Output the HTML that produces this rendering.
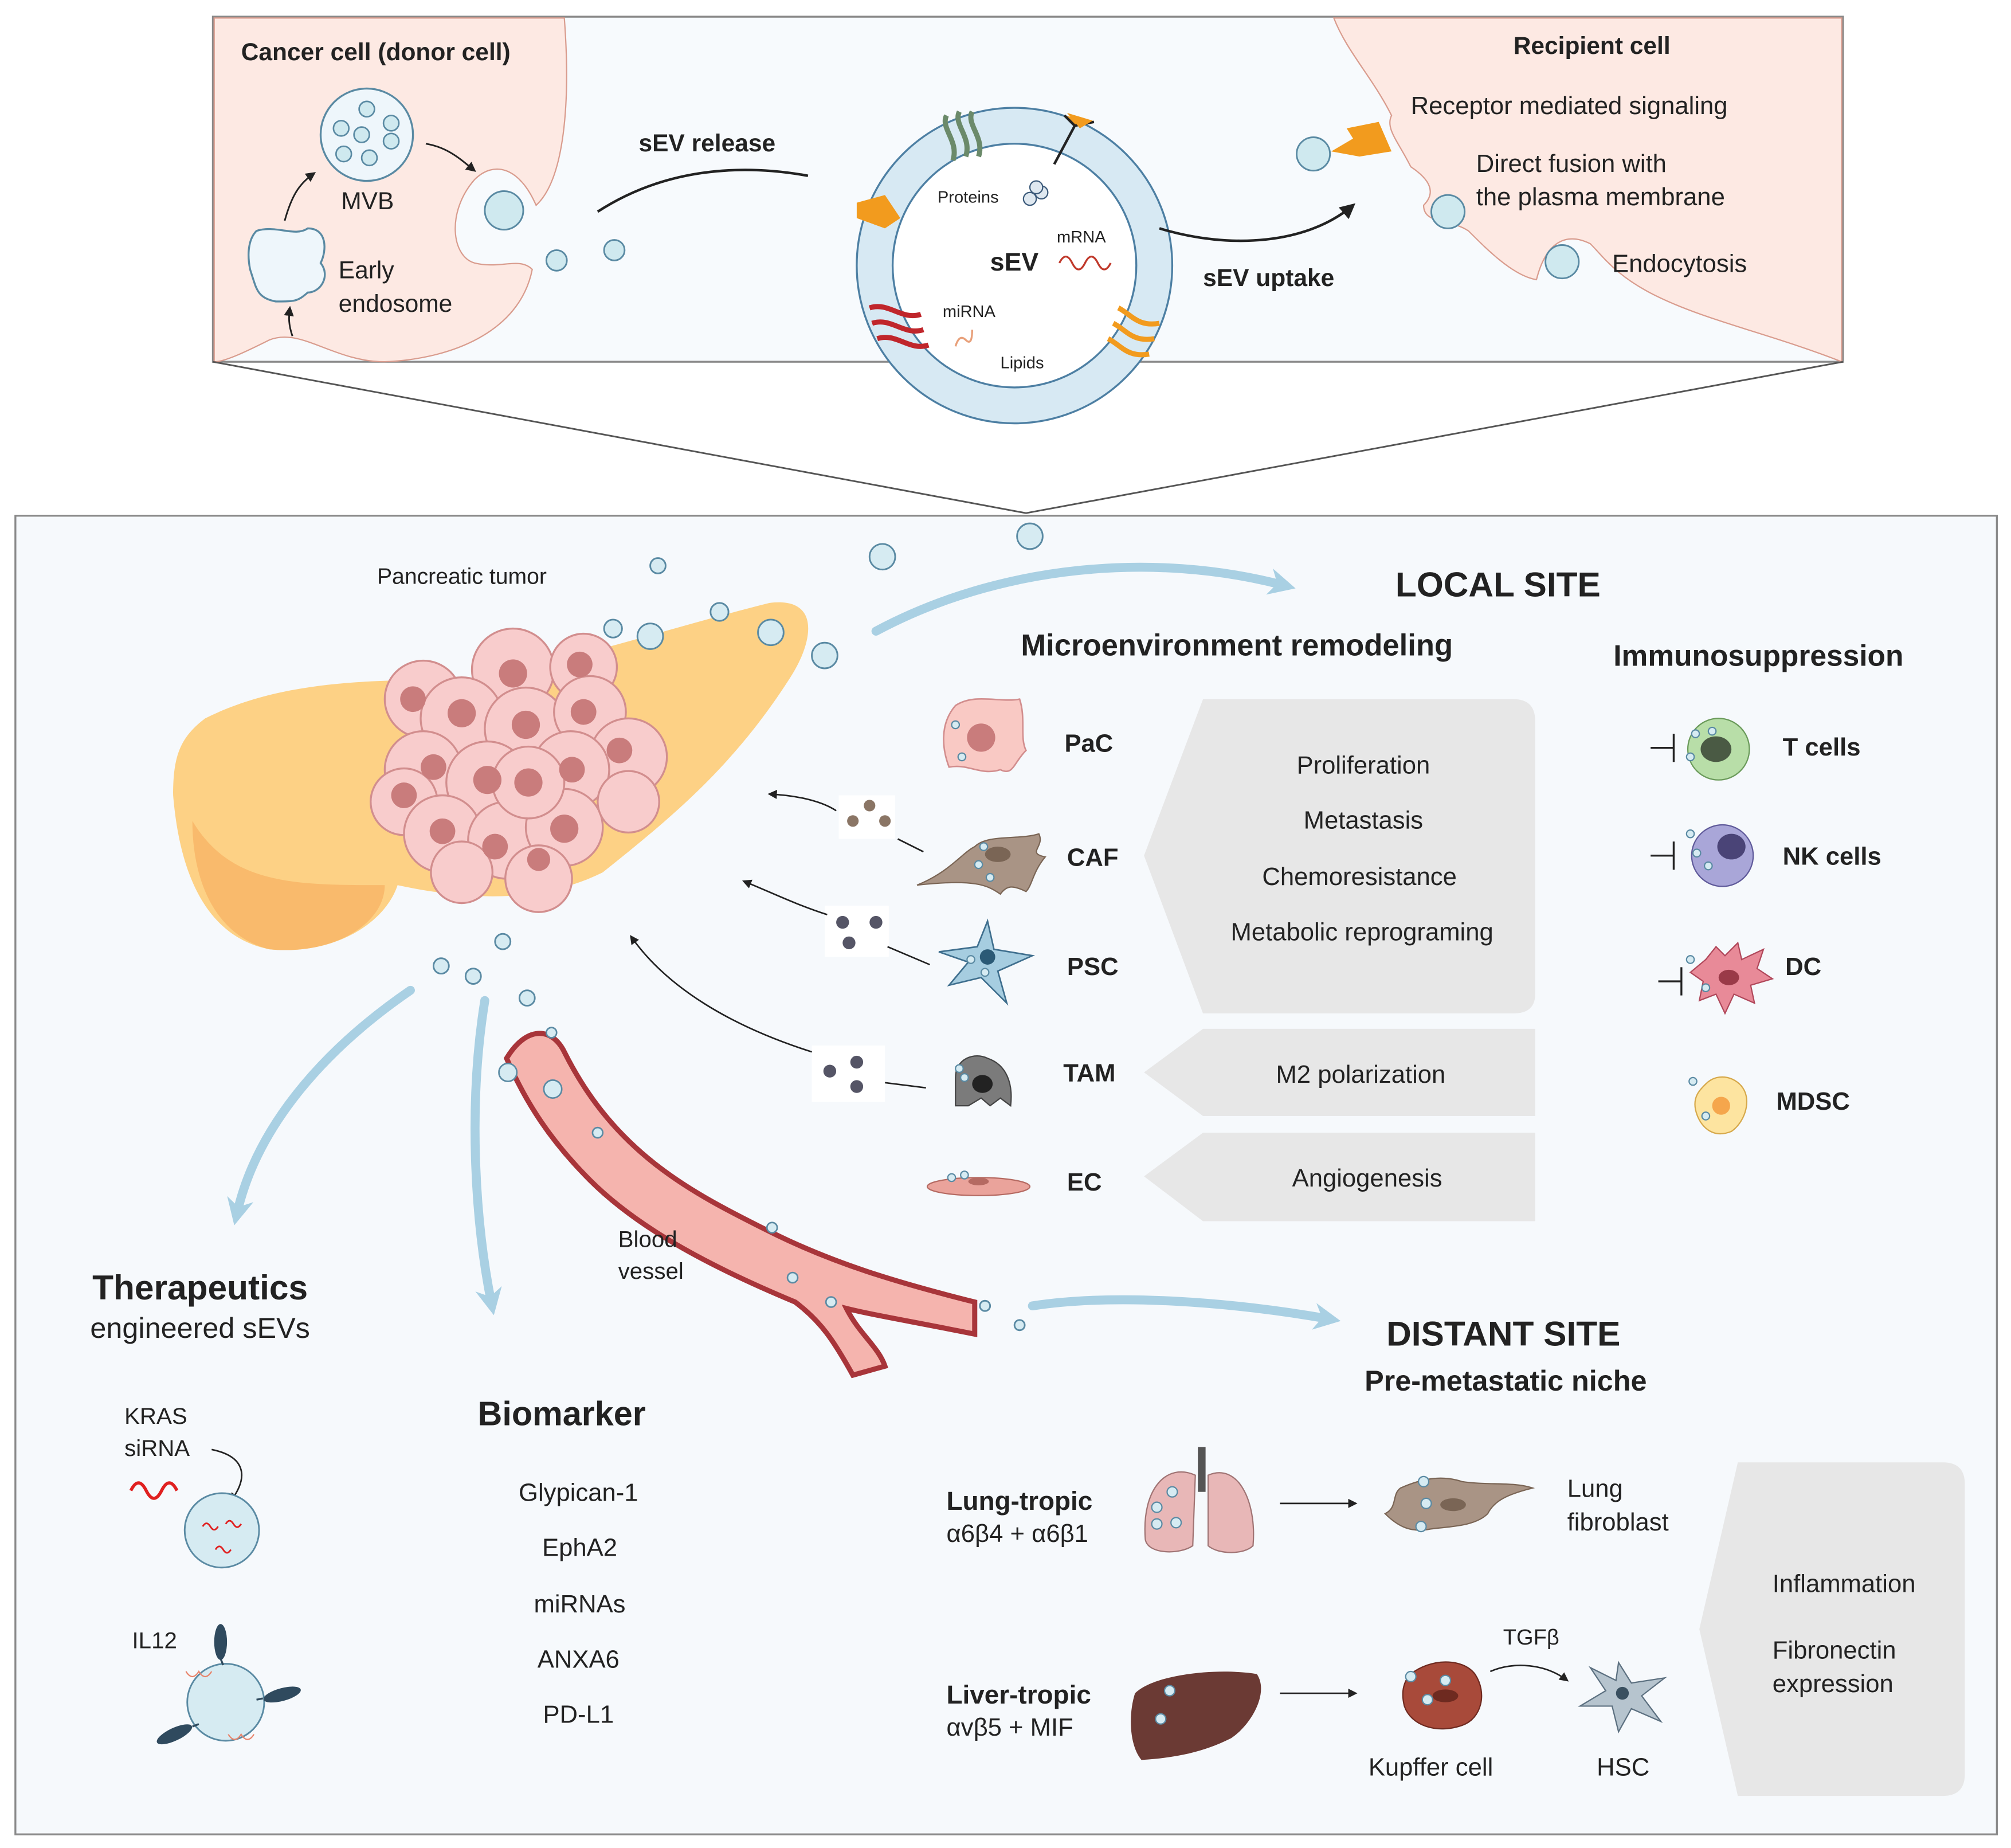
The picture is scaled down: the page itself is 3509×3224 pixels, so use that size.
<!DOCTYPE html>
<html><head><meta charset="utf-8"><style>
html,body{margin:0;padding:0;background:#fff;}
svg{display:block;}
text{font-family:"Liberation Sans",sans-serif;fill:#222;}
.b{font-weight:bold;}
</style></head><body>
<svg width="3509" height="3224" viewBox="0 0 1568 1440.6" xmlns="http://www.w3.org/2000/svg">
<defs>
<marker id="ah" viewBox="0 0 10 10" refX="8" refY="5" markerWidth="6" markerHeight="6" orient="auto"><path d="M0,0 L10,5 L0,10 z" fill="#222"/></marker>
<marker id="bh" viewBox="0 0 10 10" refX="5" refY="5" markerWidth="3" markerHeight="3" orient="auto"><path d="M0,0 L10,5 L0,10 L3,5 z" fill="#a9d0e3"/></marker>
</defs>
<rect width="1568" height="1441" fill="#fff"/>
<rect x="166" y="13" width="1271" height="269" fill="#f7fafd" stroke="#8a8a8a" stroke-width="1.5"/>
<path d="M167,14 L440,14 C445,80 440,140 418,160 C405,130 385,125 370,140 C348,165 352,200 370,205 C390,210 405,200 415,210 C405,260 350,280 300,282 C260,282 235,255 210,265 C190,275 175,282 167,282 Z" fill="#fde9e3" stroke="#d99c8e" stroke-width="1"/>
<path d="M1040,14 L1436,14 L1436,282 C1380,260 1330,250 1290,230 C1260,215 1250,200 1240,190 C1220,180 1205,190 1198,218 C1180,215 1160,195 1145,180 C1130,170 1110,175 1110,160 C1120,150 1115,140 1100,130 C1090,110 1080,100 1085,90 C1070,60 1050,40 1040,14 Z" fill="#fde9e3" stroke="#d99c8e" stroke-width="1"/>
<text x="188" y="47" class="b" font-size="19">Cancer cell (donor cell)</text>
<circle cx="286" cy="105" r="36" fill="#eef6fb" stroke="#5a8aa3" stroke-width="1.5"/>
<g fill="#cfe9ef" stroke="#5a8aa3" stroke-width="1.2"><circle cx="286" cy="85" r="6"/><circle cx="305" cy="96" r="6"/><circle cx="266" cy="100" r="6"/><circle cx="282" cy="105" r="6"/><circle cx="305" cy="110" r="6"/><circle cx="268" cy="120" r="6"/><circle cx="288" cy="123" r="6"/></g>
<text x="266" y="163" font-size="19">MVB</text>
<path d="M200,180 C215,175 230,185 240,178 C255,178 255,195 250,205 C258,215 250,228 240,228 C232,235 230,235 215,235 C200,232 200,225 195,210 C192,195 195,185 200,180Z" fill="#eef6fb" stroke="#5a8aa3" stroke-width="1.5"/>
<text x="264" y="217" font-size="19">Early</text><text x="264" y="243" font-size="19">endosome</text>
<path d="M222,172 C228,150 235,142 245,135" fill="none" stroke="#222" stroke-width="1.3" marker-end="url(#ah)"/>
<path d="M332,112 C350,115 360,125 370,133" fill="none" stroke="#222" stroke-width="1.3" marker-end="url(#ah)"/>
<path d="M228,262 C225,253 225,248 226,240" fill="none" stroke="#222" stroke-width="1.3" marker-end="url(#ah)"/>
<g fill="#cfe9ef" stroke="#5a8aa3" stroke-width="1.3"><circle cx="393" cy="164" r="15"/><circle cx="434" cy="203" r="8"/><circle cx="479" cy="195" r="8"/><circle cx="1024" cy="120" r="13"/><circle cx="1129" cy="165" r="13"/><circle cx="1218" cy="204" r="13"/></g>
<text x="498" y="118" class="b" font-size="19">sEV release</text>
<path d="M466,165 C520,130 580,128 630,137" fill="none" stroke="#222" stroke-width="2"/>
<circle cx="791" cy="207" r="109" fill="none" stroke="#d7e9f3" stroke-width="28"/>
<circle cx="791" cy="207" r="123" fill="none" stroke="#4d7fa3" stroke-width="1.5"/>
<circle cx="791" cy="207" r="95" fill="#fff" stroke="#4d7fa3" stroke-width="1.5"/>
<text x="772" y="211" class="b" font-size="20">sEV</text>
<text x="731" y="158" font-size="13">Proteins</text><text x="824" y="189" font-size="13">mRNA</text>
<text x="735" y="247" font-size="13">miRNA</text><text x="780" y="287" font-size="13">Lipids</text>
<path d="M826,205 q5,-10 10,0 t10,0 t10,0 t10,0" fill="none" stroke="#c0392b" stroke-width="1.5"/>
<path d="M745,270 q3,-10 8,-5 t5,-8" fill="none" stroke="#e8a07a" stroke-width="1.5"/>
<g fill="#dfe8f0" stroke="#3c5a7a"><circle cx="803" cy="155" r="5"/><circle cx="812" cy="150" r="5"/><circle cx="808" cy="146" r="5"/></g>
<path d="M668,158 L690,152 L702,170 L690,178 L668,170Z" fill="#f29b1e"/>
<path d="M738,90 c-5,10 10,20 5,35 M748,87 c-5,10 10,20 5,35 M758,87 c-5,10 10,20 5,35" stroke="#6b8a6a" stroke-width="4" fill="none"/>
<path d="M822,128 L838,98 M830,90 L838,98 L853,95" stroke="#222" stroke-width="2" fill="#f29b1e"/>
<path d="M832,88 l10,12 l10,-6z" fill="#f29b1e"/>
<path d="M678,240 c15,-5 25,10 40,5 M680,252 c15,-5 25,10 40,5 M684,264 c15,-5 25,10 40,5" stroke="#c0262b" stroke-width="4" fill="none"/>
<path d="M872,240 c10,5 15,15 32,12 M868,252 c10,5 15,15 32,12 M864,264 c10,5 15,15 32,12" stroke="#f29b1e" stroke-width="4" fill="none"/>
<path d="M904,178 C960,195 1020,190 1055,160" fill="none" stroke="#222" stroke-width="2" marker-end="url(#ah)"/>
<text x="938" y="223" class="b" font-size="19">sEV uptake</text>
<path d="M1038,118 L1055,108 L1050,100 L1075,95 L1085,118 L1060,122 Z" fill="#f29b1e"/>
<text x="1180" y="42" class="b" font-size="19">Recipient cell</text>
<text x="1100" y="89" font-size="19.5">Receptor mediated signaling</text>
<text x="1151" y="134" font-size="19.5">Direct fusion with</text><text x="1151" y="160" font-size="19.5">the plasma membrane</text>
<text x="1257" y="212" font-size="19.5">Endocytosis</text>
<path d="M166,282 L800,400 L1437,282" fill="none" stroke="#555" stroke-width="1.3"/>
<rect x="12" y="402" width="1545" height="1028" fill="#f6f9fc" stroke="#8a8a8a" stroke-width="1.5"/>
<path d="M160,560 C220,530 290,530 360,530 C430,520 520,490 600,470 C640,465 635,500 615,530 C570,600 520,640 470,680 C430,700 380,705 310,690 C300,720 260,745 210,740 C160,730 140,680 135,620 C135,590 140,575 160,560Z" fill="#fdd185"/>
<path d="M150,640 C180,690 230,690 300,690 C300,720 260,745 210,740 C170,730 150,690 150,640Z" fill="#f9ba6c"/>
<g stroke="#d28e8e" stroke-width="1.5" fill="#f8cccc">
<circle cx="330" cy="545" r="30"/><circle cx="400" cy="522" r="32"/><circle cx="455" cy="520" r="26"/><circle cx="360" cy="560" r="32"/><circle cx="410" cy="568" r="32"/><circle cx="460" cy="555" r="28"/><circle cx="490" cy="590" r="30"/><circle cx="330" cy="600" r="30"/><circle cx="380" cy="610" r="32"/><circle cx="445" cy="600" r="30"/><circle cx="315" cy="625" r="26"/><circle cx="345" cy="650" r="30"/><circle cx="395" cy="655" r="30"/><circle cx="440" cy="645" r="30"/><circle cx="490" cy="625" r="24"/><circle cx="420" cy="685" r="26"/><circle cx="360" cy="680" r="24"/><circle cx="412" cy="610" r="28"/>
</g>
<g fill="#c97c7c"><circle cx="322" cy="545" r="10"/><circle cx="400" cy="525" r="11"/><circle cx="452" cy="518" r="10"/><circle cx="360" cy="556" r="11"/><circle cx="410" cy="565" r="11"/><circle cx="455" cy="555" r="10"/><circle cx="483" cy="585" r="10"/><circle cx="338" cy="598" r="10"/><circle cx="380" cy="608" r="11"/><circle cx="446" cy="600" r="10"/><circle cx="315" cy="620" r="10"/><circle cx="345" cy="648" r="10"/><circle cx="386" cy="660" r="10"/><circle cx="440" cy="646" r="11"/><circle cx="412" cy="610" r="11"/><circle cx="420" cy="670" r="9"/></g>
<text x="294" y="455" font-size="17.5">Pancreatic tumor</text>
<g fill="#d6ebf2" stroke="#5a8aa3" stroke-width="1.3">
<circle cx="513" cy="441" r="6"/><circle cx="478" cy="490" r="7"/><circle cx="507" cy="496" r="10"/><circle cx="561" cy="477" r="7"/><circle cx="601" cy="493" r="10"/><circle cx="643" cy="511" r="10"/><circle cx="688" cy="434" r="10"/><circle cx="803" cy="418" r="10"/>
<circle cx="344" cy="753" r="6"/><circle cx="369" cy="761" r="6"/><circle cx="392" cy="734" r="6"/><circle cx="411" cy="778" r="6"/>
<circle cx="768" cy="1018" r="4"/><circle cx="795" cy="1033" r="4"/>
</g>
<g fill="none" stroke="#a9d0e3" stroke-width="7" stroke-linecap="round">
<path d="M683,492 C780,440 900,430 1000,456" marker-end="url(#bh)"/>
<path d="M320,772 C250,820 200,880 185,945" marker-end="url(#bh)"/>
<path d="M378,780 C365,860 370,950 383,1015" marker-end="url(#bh)"/>
<path d="M805,1018 C870,1008 960,1015 1035,1028" marker-end="url(#bh)"/>
</g>
<path d="M395,825 C410,800 430,800 440,820 C480,900 540,930 600,960 C650,985 700,1000 760,1015 L760,1040 C710,1030 680,1025 660,1020 C670,1040 685,1050 690,1065 L665,1072 C650,1045 640,1030 620,1015 C560,990 500,960 460,920 C430,890 410,860 395,825Z" fill="#f5b4ae" stroke="#a8353a" stroke-width="4"/>
<g fill="#d6ebf2" stroke="#5a8aa3" stroke-width="1.2"><circle cx="396" cy="836" r="7"/><circle cx="431" cy="849" r="7"/><circle cx="430" cy="805" r="4"/><circle cx="466" cy="883" r="4"/><circle cx="602" cy="957" r="4"/><circle cx="618" cy="996" r="4"/><circle cx="648" cy="1015" r="4"/></g>
<text x="482" y="972" font-size="18">Blood</text><text x="482" y="997" font-size="18">vessel</text>
<text x="1088" y="465" class="b" font-size="27">LOCAL SITE</text>
<text x="796" y="511" class="b" font-size="23.5">Microenvironment remodeling</text>
<text x="1258" y="519" class="b" font-size="23">Immunosuppression</text>
<g fill="#e7e7e7">
<path d="M938,545 L1180,545 Q1197,545 1197,562 L1197,775 Q1197,790 1180,790 L938,790 L892,667 Z"/>
<path d="M938,802 L1197,802 L1197,870 L938,870 L892,836 Z"/>
<path d="M938,883 L1197,883 L1197,952 L938,952 L892,917 Z"/>
<path d="M1355,1140 L1515,1140 Q1532,1140 1532,1157 L1532,1383 Q1532,1400 1515,1400 L1355,1400 L1325,1270 Z"/>
</g>
<g font-size="19.5" text-anchor="middle">
<text x="1063" y="603">Proliferation</text><text x="1063" y="646">Metastasis</text><text x="1060" y="690">Chemoresistance</text><text x="1062" y="733">Metabolic reprograming</text>
<text x="1061" y="844">M2 polarization</text><text x="1066" y="925">Angiogenesis</text>
</g>
<g font-size="19.5">
<text x="830" y="586" class="b">PaC</text><text x="832" y="675" class="b">CAF</text><text x="832" y="760" class="b">PSC</text><text x="829" y="843" class="b">TAM</text><text x="832" y="928" class="b">EC</text>
<text x="1390" y="589" class="b">T cells</text><text x="1390" y="674" class="b">NK cells</text><text x="1392" y="760" class="b">DC</text><text x="1385" y="865" class="b">MDSC</text>
</g>
<path d="M745,550 C760,540 780,548 795,545 C800,560 795,575 800,585 C790,595 790,605 780,600 C765,605 755,595 740,598 C735,585 732,565 745,550Z" fill="#f9c9c4" stroke="#d28e8e" stroke-width="1.2"/><circle cx="765" cy="575" r="11" fill="#c97c7c"/>
<path d="M715,690 C740,680 750,665 760,660 C770,650 795,655 810,650 C815,660 800,665 815,668 C805,680 805,690 800,695 C790,690 785,690 780,697 C770,690 760,685 715,690Z" fill="#a99485" stroke="#7a6555"/><ellipse cx="778" cy="666" rx="10" ry="6" fill="#7a6555"/>
<path d="M770,718 L775,740 L805,745 L778,757 L785,782 L765,762 L740,768 L755,750 L732,742 L762,738Z" fill="#a6cde0" stroke="#3f6f8e" stroke-width="1.2"/><circle cx="770" cy="746" r="6" fill="#2b5a76"/>
<path d="M745,862 L745,840 C745,825 760,820 770,825 C785,830 790,845 788,862 L780,856 L772,862 L765,856 L755,862Z" fill="#7b7b7b" stroke="#444"/><ellipse cx="766" cy="845" rx="8" ry="7" fill="#222"/>
<ellipse cx="763" cy="925" rx="40" ry="7" fill="#eaa39b" stroke="#b56a62"/><ellipse cx="763" cy="921" rx="8" ry="3" fill="#b56a62"/>
<g fill="#d6ebf2" stroke="#5a8aa3" stroke-width="1"><circle cx="745" cy="565" r="3"/><circle cx="750" cy="590" r="3"/><circle cx="763" cy="674" r="3"/><circle cx="772" cy="684" r="3"/><circle cx="767" cy="660" r="3"/><circle cx="757" cy="748" r="3"/><circle cx="768" cy="758" r="3"/><circle cx="748" cy="833" r="3"/><circle cx="752" cy="840" r="3"/><circle cx="742" cy="918" r="3"/><circle cx="752" cy="916" r="3"/></g>
<g fill="#fff"><rect x="654" y="620" width="44" height="34"/><rect x="643" y="706" width="50" height="40"/><rect x="633" y="815" width="57" height="44"/></g>
<g fill="#8a7565"><circle cx="665" cy="640" r="4.5"/><circle cx="678" cy="628" r="4.5"/><circle cx="690" cy="640" r="4.5"/></g>
<g fill="#556"><circle cx="657" cy="719" r="5"/><circle cx="683" cy="719" r="5"/><circle cx="662" cy="735" r="5"/><circle cx="647" cy="835" r="5"/><circle cx="668" cy="828" r="5"/><circle cx="668" cy="847" r="5"/></g>
<g fill="none" stroke="#222" stroke-width="1.2">
<path d="M720,664 L700,654"/><path d="M652,632 C640,624 620,620 600,619" marker-end="url(#ah)"/>
<path d="M725,752 L692,738"/><path d="M645,713 C620,705 600,695 580,687" marker-end="url(#ah)"/>
<path d="M722,848 L690,844"/><path d="M633,820 C570,800 520,770 492,730" marker-end="url(#ah)"/>
</g>
<g stroke="#222" stroke-width="1.5" fill="none"><path d="M1287,583 L1305,583 M1305,572 L1305,594"/><path d="M1287,667 L1305,667 M1305,656 L1305,678"/><path d="M1293,765 L1311,765 M1311,754 L1311,776"/></g>
<circle cx="1340" cy="584" r="24" fill="#b8dea8" stroke="#6a9a5a"/><ellipse cx="1338" cy="584" rx="12" ry="10" fill="#4a5a44"/>
<circle cx="1343" cy="667" r="24" fill="#a9a6d8" stroke="#5f5a9a"/><ellipse cx="1350" cy="660" rx="11" ry="10" fill="#4a4477"/>
<path d="M1330,748 L1338,738 L1345,745 L1355,735 L1358,748 L1375,740 L1370,755 L1382,763 L1365,768 L1368,782 L1352,775 L1345,790 L1338,775 L1325,780 L1328,765 L1318,758Z" fill="#e88a98" stroke="#b0475a"/><ellipse cx="1348" cy="762" rx="8" ry="6" fill="#9a3a48"/>
<path d="M1330,845 C1340,835 1355,840 1360,850 C1365,860 1360,875 1350,882 C1335,888 1325,878 1322,865 C1320,855 1325,850 1330,845Z" fill="#fde4a0" stroke="#d6a84a"/><circle cx="1342" cy="862" r="7" fill="#f5a64c"/>
<g fill="#d6ebf2" stroke="#5a8aa3" stroke-width="1"><circle cx="1322" cy="572" r="3"/><circle cx="1318" cy="590" r="3"/><circle cx="1335" cy="570" r="3"/><circle cx="1318" cy="650" r="3"/><circle cx="1323" cy="665" r="3"/><circle cx="1332" cy="675" r="3"/><circle cx="1318" cy="748" r="3"/><circle cx="1330" cy="770" r="3"/><circle cx="1320" cy="843" r="3"/><circle cx="1330" cy="870" r="3"/></g>
<text x="1081" y="1049" class="b" font-size="27">DISTANT SITE</text>
<text x="1064" y="1084" class="b" font-size="22.5">Pre-metastatic niche</text>
<text x="738" y="1177" class="b" font-size="20.5">Lung-tropic</text><text x="738" y="1202" font-size="19.5">α6β4 + α6β1</text>
<text x="738" y="1328" class="b" font-size="20.5">Liver-tropic</text><text x="738" y="1353" font-size="19.5">αvβ5 + MIF</text>
<path d="M932,1150 C910,1140 890,1160 893,1200 C895,1212 920,1212 930,1205 Z" fill="#e8b7b7" stroke="#a07474"/>
<path d="M942,1150 C965,1140 980,1170 977,1205 C970,1212 950,1212 942,1205 Z" fill="#e8b7b7" stroke="#a07474"/>
<rect x="934" y="1128" width="6" height="35" fill="#555"/>
<path d="M885,1320 C900,1305 950,1300 980,1305 C990,1320 975,1345 960,1355 C940,1365 920,1370 890,1372 C880,1360 880,1335 885,1320Z" fill="#6b3a34"/>
<path d="M1092,1160 C1110,1152 1125,1150 1140,1155 C1160,1158 1180,1155 1195,1160 C1175,1165 1165,1170 1160,1180 C1150,1190 1130,1190 1115,1192 C1100,1195 1090,1190 1080,1180 C1090,1175 1085,1165 1092,1160Z" fill="#a99485" stroke="#7a6555"/><ellipse cx="1133" cy="1173" rx="10" ry="5" fill="#7a6555"/>
<path d="M1100,1305 C1115,1293 1140,1292 1150,1305 C1160,1320 1155,1340 1140,1345 C1120,1352 1100,1345 1095,1330 C1092,1318 1095,1310 1100,1305Z" fill="#a84a3a" stroke="#6e2a20"/><ellipse cx="1127" cy="1322" rx="10" ry="5" fill="#6e2a20"/>
<path d="M1262,1296 L1272,1312 L1298,1308 L1280,1322 L1295,1342 L1272,1332 L1262,1350 L1257,1330 L1232,1330 L1252,1318 L1240,1300 L1260,1310Z" fill="#b6c4ce" stroke="#5c7080"/><circle cx="1265" cy="1320" r="5" fill="#3a5060"/>
<g fill="#d6ebf2" stroke="#5a8aa3" stroke-width="1"><circle cx="914" cy="1163" r="4"/><circle cx="902" cy="1175" r="4"/><circle cx="902" cy="1188" r="4"/><circle cx="917" cy="1187" r="4"/><circle cx="1110" cy="1155" r="4"/><circle cx="1112" cy="1172" r="4"/><circle cx="1108" cy="1190" r="4"/><circle cx="912" cy="1318" r="4"/><circle cx="905" cy="1340" r="4"/><circle cx="1100" cy="1307" r="4"/><circle cx="1127" cy="1310" r="4"/><circle cx="1113" cy="1325" r="4"/></g>
<g fill="none" stroke="#222" stroke-width="1.2">
<path d="M998,1172 L1057,1172" marker-end="url(#ah)"/><path d="M998,1320 L1057,1320" marker-end="url(#ah)"/>
<path d="M1162,1303 C1180,1295 1205,1297 1222,1310" marker-end="url(#ah)"/>
</g>
<text x="1172" y="1282" font-size="17">TGFβ</text>
<text x="1222" y="1167" font-size="19.5">Lung</text><text x="1222" y="1193" font-size="19.5">fibroblast</text>
<text x="1067" y="1384" font-size="19.5">Kupffer cell</text><text x="1245" y="1384" font-size="19.5">HSC</text>
<text x="1382" y="1241" font-size="19.5">Inflammation</text><text x="1382" y="1293" font-size="19.5">Fibronectin</text><text x="1382" y="1319" font-size="19.5">expression</text>
<text x="156" y="1013" class="b" font-size="27" text-anchor="middle">Therapeutics</text>
<text x="156" y="1043" font-size="22.5" text-anchor="middle">engineered sEVs</text>
<text x="97" y="1110" font-size="18">KRAS</text><text x="97" y="1135" font-size="18">siRNA</text>
<path d="M102,1162 q6,-12 12,0 t12,0 t12,0" fill="none" stroke="#e02020" stroke-width="2.5"/>
<path d="M165,1130 C190,1135 195,1150 180,1170" fill="none" stroke="#222" stroke-width="1.2" marker-end="url(#ah)"/>
<circle cx="173" cy="1193" r="29" fill="#d6ebf2" stroke="#5a8aa3" stroke-width="1.3"/>
<g fill="none" stroke="#e02020" stroke-width="1.3"><path d="M158,1190 q3,-5 6,0 t6,0"/><path d="M176,1188 q3,-5 6,0 t6,0"/><path d="M168,1208 q3,-5 6,0 t6,0"/></g>
<text x="103" y="1285" font-size="18">IL12</text>
<circle cx="176" cy="1327" r="30" fill="#d6ebf2" stroke="#5a8aa3" stroke-width="1.3"/>
<g fill="#2f4a5e"><ellipse cx="172" cy="1280" rx="5" ry="14"/><ellipse cx="220" cy="1321" rx="15" ry="5" transform="rotate(-15 220 1321)"/><ellipse cx="136" cy="1352" rx="15" ry="5" transform="rotate(-25 136 1352)"/></g>
<g stroke="#2f4a5e" stroke-width="1.5"><path d="M172,1293 L174,1298"/><path d="M205,1324 L200,1325"/><path d="M150,1346 L155,1344"/></g>
<g fill="none" stroke="#e8836a" stroke-width="1"><path d="M145,1303 q5,8 10,0 q5,8 10,0"/><path d="M178,1352 q5,8 10,0 q5,8 10,0"/></g>
<text x="438" y="1111" class="b" font-size="26.5" text-anchor="middle">Biomarker</text>
<g font-size="19.5" text-anchor="middle"><text x="451" y="1170">Glypican-1</text><text x="452" y="1213">EphA2</text><text x="452" y="1257">miRNAs</text><text x="451" y="1300">ANXA6</text><text x="451" y="1343">PD-L1</text></g>
</svg>
</body></html>
